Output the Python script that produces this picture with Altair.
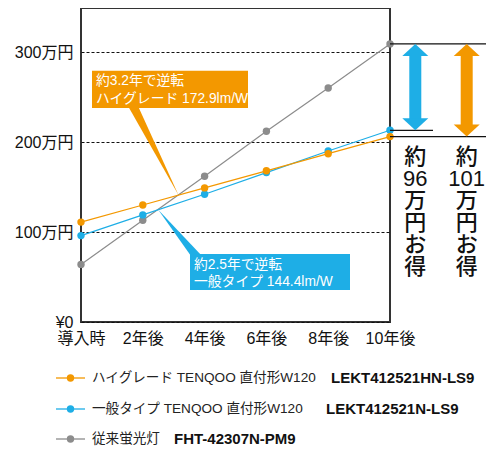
import altair as alt
import pandas as pd
import numpy as np

# ---------------- data ----------------
years = [0, 2, 4, 6, 8, 10]
year_labels = ["導入時", "2年後", "4年後", "6年後", "8年後", "10年後"]
high_grade = [111, 130, 149, 168, 187, 206]
standard = [96, 119, 142, 166, 190, 213]
fluorescent = [64, 113, 162, 212, 260, 309]
y_ticks = [0, 100, 200, 300]
y_tick_labels = ["¥0", "100万円", "200万円", "300万円"]

series_names = ["ハイグレード TENQOO 直付形W120", "一般タイプ TENQOO 直付形W120", "従来蛍光灯"]
series_models = ["LEKT412521HN-LS9", "LEKT412521N-LS9", "FHT-42307N-PM9"]
series_colors = ["#F39800", "#1EAEE6", "#8C8C8C"]

hg_callout = ["約3.2年で逆転", "ハイグレード 172.9lm/W"]
std_callout = ["約2.5年で逆転", "一般タイプ 144.4lm/W"]
hg_cross_year = 3.2
std_cross_year = 2.5
std_saving = ["約", "96", "万", "円", "お", "得"]
hg_saving = ["約", "101", "万", "円", "お", "得"]

# ---------------- layout ----------------
PLOT_L, PLOT_T, PLOT_R, PLOT_B = 81, 8, 390, 322
PAGE_BOTTOM = 449
W = PLOT_R - PLOT_L
H = PLOT_B - PLOT_T
PX_PER_UNIT = 0.9
YMAX = H / PX_PER_UNIT
XMAX = 10
FONT = "Liberation Sans, Noto Sans CJK JP"


def dx(px):
    return (px - PLOT_L) / W * XMAX


def dy(py):
    return (PLOT_B - py) / PX_PER_UNIT


def expr_map(vals, labels):
    e = "''"
    for v, l in reversed(list(zip(vals, labels))):
        e = f"datum.value == {v} ? '{l}' : ({e})"
    return e


xs = alt.Scale(domain=[0, XMAX], nice=False, zero=False)
ys = alt.Scale(domain=[0, YMAX], nice=False, zero=False)
x_axis = alt.Axis(
    values=years, labelExpr=expr_map(years, year_labels), title=None,
    ticks=False, domain=False, grid=False, labelFontSize=16, labelFont=FONT,
    labelColor="#111", labelPadding=8, labelFlush=False, labelOverlap=False)
y_axis = alt.Axis(
    values=y_ticks, labelExpr=expr_map(y_ticks, y_tick_labels), title=None,
    ticks=False, domain=False, grid=True, gridDash=[3, 2], gridColor="#111",
    gridWidth=1.2, labelFontSize=16, labelFont=FONT, labelColor="#111",
    labelPadding=8, labelFlush=False, labelOverlap=False)


def X(field):
    return alt.X(field, type="quantitative", scale=xs, axis=x_axis)


def Y(field):
    return alt.Y(field, type="quantitative", scale=ys, axis=y_axis)


def series_df(vals):
    return pd.DataFrame({"x": years, "y": vals})


layers = []

# callout pointers (drawn under lines)
hg_tip = (hg_cross_year, float(np.interp(hg_cross_year, years, high_grade)))
std_tip = (std_cross_year, float(np.interp(std_cross_year, years, standard)))
pointer_df = pd.DataFrame([
    {"id": "hg", "y": dy(106), "x": dx(128), "x2": dx(138), "c": series_colors[0]},
    {"id": "hg", "y": hg_tip[1], "x": hg_tip[0] - 0.05, "x2": hg_tip[0] - 0.05, "c": series_colors[0]},
    {"id": "std", "y": dy(256), "x": dx(191), "x2": dx(202), "c": series_colors[1]},
    {"id": "std", "y": std_tip[1], "x": std_tip[0], "x2": std_tip[0], "c": series_colors[1]},
])
layers.append(alt.Chart(pointer_df).mark_area(orient="horizontal").encode(
    y=Y("y"), x=X("x"), x2="x2", color=alt.Color("c:N", scale=None), detail="id:N"))

# callout boxes
box_df = pd.DataFrame([
    {"x": dx(92), "x2": dx(248), "y": dy(70.7), "y2": dy(108), "c": series_colors[0]},
    {"x": dx(190), "x2": dx(350), "y": dy(254), "y2": dy(290), "c": series_colors[1]},
])
layers.append(alt.Chart(box_df).mark_rect().encode(
    x=X("x"), x2="x2", y=Y("y"), y2="y2", color=alt.Color("c:N", scale=None)))

callout_text = pd.DataFrame([
    {"x": dx(96), "y": dy(81), "t": hg_callout[0]},
    {"x": dx(96), "y": dy(99), "t": hg_callout[1]},
    {"x": dx(194), "y": dy(265), "t": std_callout[0]},
    {"x": dx(194), "y": dy(282), "t": std_callout[1]},
])
layers.append(alt.Chart(callout_text).mark_text(
    align="left", baseline="middle", color="white", fontSize=13.8, font=FONT
).encode(x=X("x"), y=Y("y"), text="t:N"))

# series: gray, blue, orange (orange on top)
for vals, col in [(fluorescent, series_colors[2]), (standard, series_colors[1]),
                  (high_grade, series_colors[0])]:
    layers.append(alt.Chart(series_df(vals)).mark_line(color=col, strokeWidth=1.2)
                  .encode(x=X("x"), y=Y("y")))
    layers.append(alt.Chart(series_df(vals)).mark_circle(color=col, size=55, opacity=1)
                  .encode(x=X("x"), y=Y("y")))

# right-side savings guides
guide_df = pd.DataFrame([
    {"x": XMAX, "x2": dx(486), "y": fluorescent[-1]},
    {"x": XMAX, "x2": dx(433), "y": standard[-1]},
    {"x": XMAX, "x2": dx(486), "y": high_grade[-1]},
])
layers.append(alt.Chart(guide_df).mark_rule(color="#111", strokeWidth=1.3).encode(
    x=X("x"), x2="x2", y=Y("y")))

HEAD = 12 / PX_PER_UNIT
arrows = [
    (dx(415.3), fluorescent[-1], standard[-1], series_colors[1]),
    (dx(466.7), fluorescent[-1], high_grade[-1], series_colors[0]),
]
shaft_df = pd.DataFrame([{"x": a, "y": t - HEAD * 0.8, "y2": b + HEAD * 0.8, "c": c}
                         for a, t, b, c in arrows])
layers.append(alt.Chart(shaft_df).mark_rule(strokeWidth=12).encode(
    x=X("x"), y=Y("y"), y2="y2", color=alt.Color("c:N", scale=None)))
up_df = pd.DataFrame([{"x": a, "y": t - HEAD / 2, "c": c} for a, t, b, c in arrows])
dn_df = pd.DataFrame([{"x": a, "y": b + HEAD / 2, "c": c} for a, t, b, c in arrows])
layers.append(alt.Chart(up_df).mark_point(
    shape="M-1,0.46L0,-0.46L1,0.46Z", size=676, filled=True, opacity=1, strokeWidth=0
).encode(x=X("x"), y=Y("y"), color=alt.Color("c:N", scale=None)))
layers.append(alt.Chart(dn_df).mark_point(
    shape="M-1,-0.46L0,0.46L1,-0.46Z", size=676, filled=True, opacity=1, strokeWidth=0
).encode(x=X("x"), y=Y("y"), color=alt.Color("c:N", scale=None)))

# vertical savings text (one multi-line text per column; first line centred at y)
vt = pd.DataFrame([
    {"x": arrows[0][0], "y": dy(157), "t": "\n".join(std_saving)},
    {"x": arrows[1][0], "y": dy(157), "t": "\n".join(hg_saving)},
])
layers.append(alt.Chart(vt).mark_text(
    align="center", baseline="middle", fontSize=22, lineHeight=22, lineBreak="\n",
    font=FONT, color="#111", fontWeight=500
).encode(x=X("x"), y=Y("y"), text="t:N"))

# custom legend
leg_py = [378, 409, 439]
bold_px = [331, 326, 174]
leg = pd.DataFrame({
    "name": series_names, "model": series_models, "c": series_colors,
    "y": [dy(p) for p in leg_py], "bx": [dx(p) for p in bold_px],
})
leg["x1"] = dx(56)
leg["x2"] = dx(85)
leg["cx"] = dx(70.5)
leg["tx"] = dx(92)
lb = alt.Chart(leg)
layers.append(lb.mark_rule(strokeWidth=1.3).encode(
    x=X("x1"), x2="x2", y=Y("y"), color=alt.Color("c:N", scale=None)))
layers.append(lb.mark_circle(size=55, opacity=1).encode(
    x=X("cx"), y=Y("y"), color=alt.Color("c:N", scale=None)))
layers.append(lb.mark_text(align="left", baseline="middle", fontSize=13.6, font=FONT,
                           color="#222").encode(x=X("tx"), y=Y("y"), text="name:N"))
layers.append(lb.mark_text(align="left", baseline="middle", fontSize=15, font=FONT,
                           fontWeight="bold", color="#111").encode(
    x=X("bx"), y=Y("y"), text="model:N"))

chart = alt.layer(*layers).properties(
    width=W, height=H,
    autosize=alt.AutoSizeParams(type="none"),
    padding={"left": PLOT_L - 8, "top": PLOT_T - 8, "right": 496 - 8 - PLOT_R,
             "bottom": PAGE_BOTTOM - PLOT_B},
    background="white",
).configure_view(stroke="#333", strokeWidth=2)

chart.save("out.html", embed_options={"renderer": "svg", "actions": False})
